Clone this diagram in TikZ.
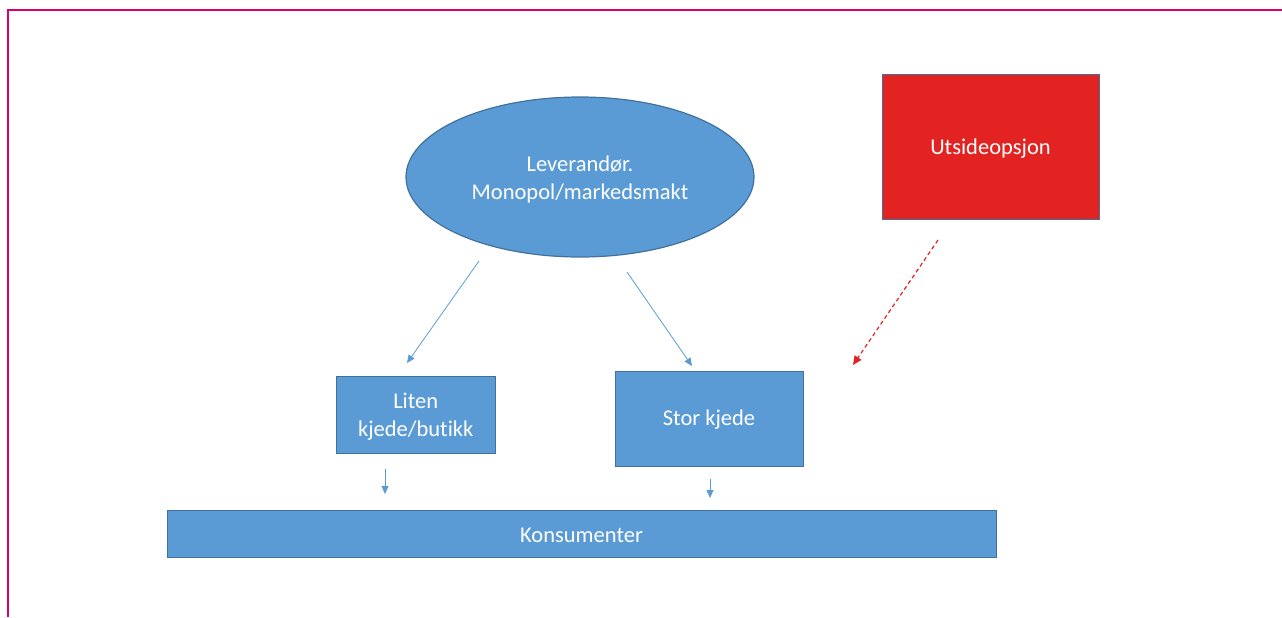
\documentclass[tikz,border=0pt]{standalone}
\usepackage{fontspec}
\setmainfont[Ligatures=NoCommon]{Carlito}
\usetikzlibrary{shapes.geometric,arrows.meta}
\definecolor{boxblue}{HTML}{5B9BD5}
\definecolor{edgeblue}{HTML}{41719C}
\definecolor{boxred}{HTML}{E32322}
\definecolor{framepink}{HTML}{D6006F}
\tikzset{
  px/.style={x=0.5pt,y=-0.5pt},
  bluebox/.style={draw=edgeblue,fill=boxblue,line width=0.6pt,inner sep=0pt},
  boxtext/.style={text=white,font=\fontsize{11.25}{14}\selectfont,align=center,inner sep=0pt},
  bluearrow/.style={draw=boxblue,line width=0.4pt,-{Triangle[length=4pt,width=3.5pt]}},
  redarrow/.style={draw=boxred,line width=0.6pt,dashed,dash pattern=on 2pt off 1.5pt,-{Triangle[length=4.5pt,width=4pt]}}
}
\begin{document}
\begin{tikzpicture}[px]
\useasboundingbox (0,0) rectangle (1282,617);
\draw[framepink,line width=1pt] (8,617) -- (8,10) -- (1282,10);
\node[bluebox,ellipse,minimum width=174pt,minimum height=80pt] (lev) at (580,177) {};
\node[boxtext] (levtxt) at (580,179.5) {Leverandør.\\Monopol/markedsmakt};
\node[bluebox,fill=boxred,minimum width=108.5pt,minimum height=72.5pt,anchor=north west] (uts) at (882,74) {};
\node[boxtext] (utstxt) at (990.5,149) {Utsideopsjon};
\node[bluebox,minimum width=79.5pt,minimum height=38.5pt,anchor=north west] (liten) at (336,376) {};
\node[boxtext] (litentxt) at (415.75,417) {Liten\\kjede/butikk};
\node[bluebox,minimum width=94pt,minimum height=47.5pt,anchor=north west] (stor) at (615,371) {};
\node[boxtext] (stortxt) at (709,420) {Stor kjede};
\node[bluebox,minimum width=414.5pt,minimum height=23.5pt,anchor=north west] (kons) at (167,510) {};
\node[boxtext] (konstxt) at (581.5,535) {Konsumenter};
\coordinate (a1s) at (479,261); \coordinate (a1e) at (407,363);
\coordinate (a2s) at (627,272); \coordinate (a2e) at (692,366);
\coordinate (a3s) at (938,240); \coordinate (a3e) at (853,365);
\coordinate (a4s) at (385,469); \coordinate (a4e) at (385,494);
\coordinate (a5s) at (710,479); \coordinate (a5e) at (710,498);
\draw[bluearrow] (a1s) -- (a1e);
\draw[bluearrow] (a2s) -- (a2e);
\draw[redarrow] (a3s) -- (a3e);
\draw[bluearrow] (a4s) -- (a4e);
\draw[bluearrow] (a5s) -- (a5e);
\end{tikzpicture}
\end{document}
